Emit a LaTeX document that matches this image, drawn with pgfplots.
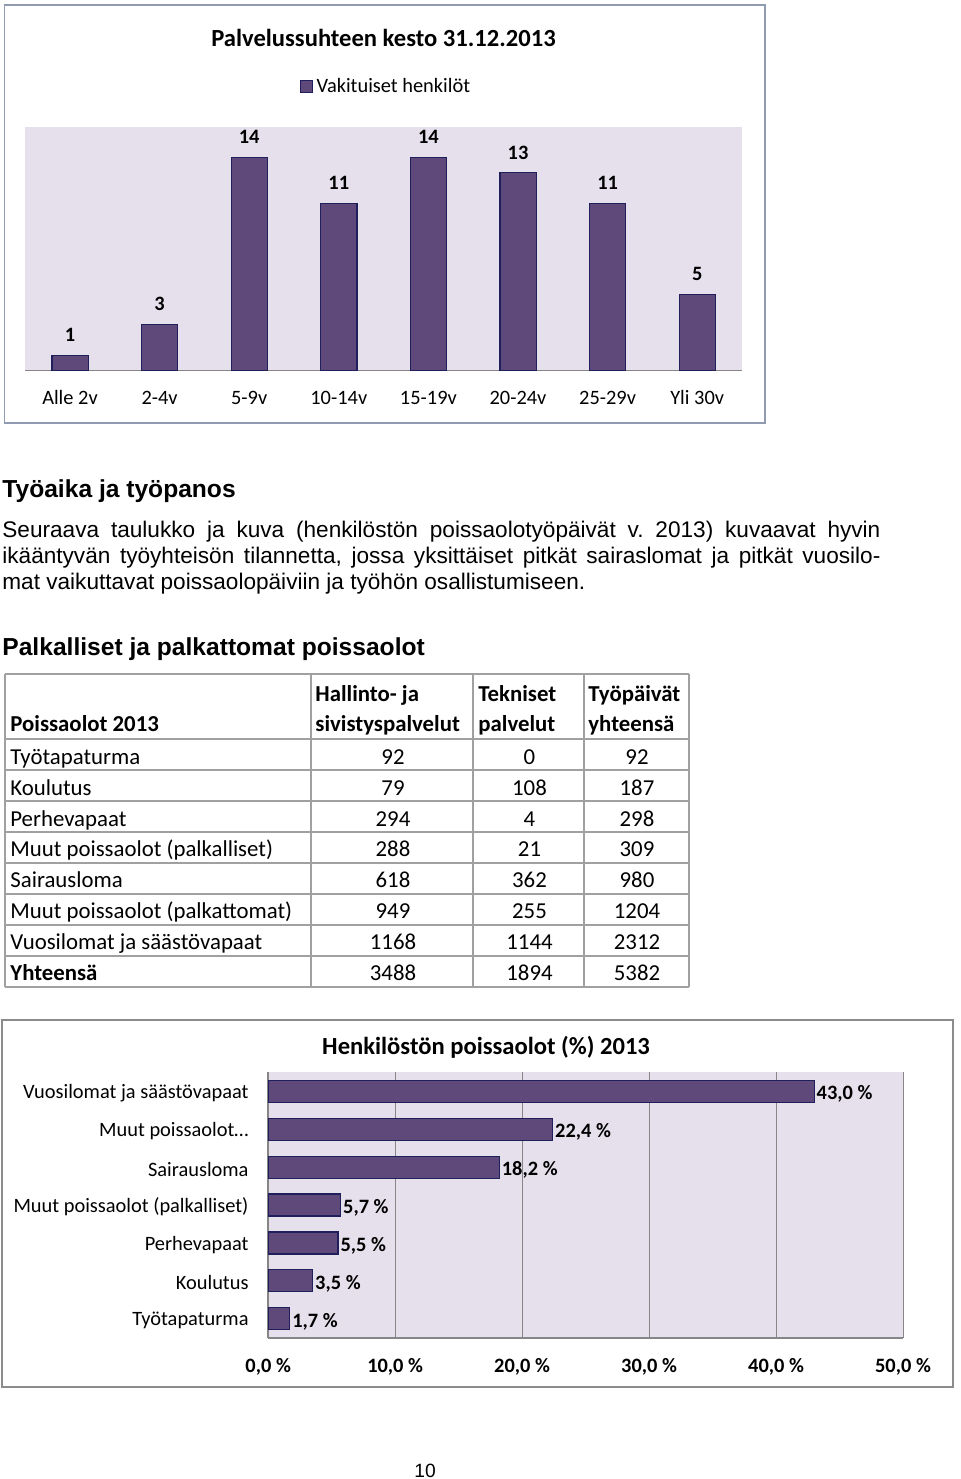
\documentclass[border=0pt]{standalone}
\usepackage{fontspec}
\setmainfont{Liberation Sans}
\newfontfamily\calibri{Carlito}
\usepackage{pgfplots}
\pgfplotsset{compat=1.18}
\definecolor{barfill}{HTML}{5F497A}
\definecolor{baredge}{HTML}{1F1F5C}
\definecolor{plotbg}{HTML}{E5E0EC}
\definecolor{gridgray}{HTML}{868686}
\definecolor{framegray}{HTML}{8E9BB0}
\definecolor{framegrayb}{HTML}{8C8C8C}
\definecolor{tablegray}{HTML}{A0A0A0}
\newcommand\cfont{\calibri\fontsize{10.2}{12}\selectfont}
\newcommand\cbfont{\calibri\bfseries\fontsize{10.2}{12}\selectfont}
\newcommand\tfont{\calibri\fontsize{11.4}{13}\selectfont}
\newcommand\tbfont{\calibri\bfseries\fontsize{11.4}{13}\selectfont}
\newcommand\titlefont{\calibri\bfseries\fontsize{12.3}{14}\selectfont}
\frenchspacing
\begin{document}
\begin{tikzpicture}
\begin{scope}[x=0.5pt,y=-0.5pt]
\path[use as bounding box] (0,0) rectangle (960,1479);
\coordinate (A1) at (25.2,370.3);
\coordinate (A2) at (268.2,1337.7);
\draw[framegray, line width=0.6pt] (4.5,5) rectangle (765,423);
\draw[framegrayb, line width=0.6pt] (2,1020) rectangle (953,1387);
\node[anchor=base, inner sep=0, font=\titlefont] at (383.5,46) {Palvelussuhteen kesto 31.12.2013};
\node[anchor=base, inner sep=0, font=\titlefont] at (486,1054.3) {Henkilöstön poissaolot (\%) 2013};
% text
\node[anchor=base west, inner sep=0, font=\bfseries\fontsize{12.3}{14}\selectfont] at (2,497) {Työaika ja työpanos};
\node[anchor=base west, inner sep=0, font=\fontsize{11.3}{13}\selectfont] at (2,537) {\hbox to 439pt{Seuraava taulukko ja kuva (henkilöstön poissaolotyöpäivät v.\ 2013) kuvaavat hyvin}};
\node[anchor=base west, inner sep=0, font=\fontsize{11.3}{13}\selectfont] at (2,563) {\hbox to 439pt{ikääntyvän työyhteisön tilannetta, jossa yksittäiset pitkät sairaslomat ja pitkät vuosilo-}};
\node[anchor=base west, inner sep=0, font=\fontsize{11.3}{13}\selectfont] at (2,589) {mat vaikuttavat poissaolopäiviin ja työhön osallistumiseen.};
\node[anchor=base west, inner sep=0, font=\bfseries\fontsize{12.3}{14}\selectfont] at (2,655) {Palkalliset ja palkattomat poissaolot};
% table
\foreach \yy in {674,739,769.5,800.5,831.5,862.5,893.5,924.5,955.5,986.5}
  \draw[tablegray, line width=1pt] (5,\yy) -- (689,\yy);
\foreach \xx in {5,310.5,473,583.5,689}
  \draw[tablegray, line width=1pt] (\xx,674) -- (\xx,986.5);
\node[anchor=base west, inner sep=0, font=\tbfont] at (315,701.7) {Hallinto- ja};
\node[anchor=base west, inner sep=0, font=\tbfont] at (315,731.7) {sivistyspalvelut};
\node[anchor=base west, inner sep=0, font=\tbfont] at (478,701.7) {Tekniset};
\node[anchor=base west, inner sep=0, font=\tbfont] at (478,731.7) {palvelut};
\node[anchor=base west, inner sep=0, font=\tbfont] at (588,701.7) {Työpäivät};
\node[anchor=base west, inner sep=0, font=\tbfont] at (588,731.7) {yhteensä};
\node[anchor=base west, inner sep=0, font=\tbfont] at (10,731.7) {Poissaolot 2013};
\foreach \n/\a/\b/\c/\yy in {Työtapaturma/92/0/92/764, Koulutus/79/108/187/795, Perhevapaat/294/4/298/826, Muut poissaolot (palkalliset)/288/21/309/856.5, Sairausloma/618/362/980/887.5, Muut poissaolot (palkattomat)/949/255/1204/918, Vuosilomat ja säästövapaat/1168/1144/2312/949}{
  \node[anchor=base west, inner sep=0, font=\tfont] at (10,\yy) {\n};
  \node[anchor=base, inner sep=0, font=\tfont] at (393,\yy) {\a};
  \node[anchor=base, inner sep=0, font=\tfont] at (529.5,\yy) {\b};
  \node[anchor=base, inner sep=0, font=\tfont] at (637,\yy) {\c};
}
\node[anchor=base west, inner sep=0, font=\tbfont] at (10,980) {Yhteensä};
\node[anchor=base, inner sep=0, font=\tfont] at (393,980) {3488};
\node[anchor=base, inner sep=0, font=\tfont] at (529.5,980) {1894};
\node[anchor=base, inner sep=0, font=\tfont] at (637,980) {5382};
\node[anchor=base, inner sep=0, font=\fontsize{9.6}{11}\selectfont] at (425,1477.7) {10};
\end{scope}

\begin{axis}[at={(A1)}, anchor=south west, scale only axis,
  width=358.4pt, height=121.5pt,
  ybar, bar width=18.1pt,
  xmin=-0.5, xmax=7.5, ymin=0, ymax=16,
  xtick={0,...,7},
  xticklabels={Alle 2v,2-4v,5-9v,10-14v,15-19v,20-24v,25-29v,Yli 30v},
  ytick=\empty,
  axis x line=bottom, axis y line=none,
  axis line style={gridgray, line width=0.8pt, -},
  xtick style={draw=none},
  axis background/.style={fill=plotbg},
  xticklabel style={font=\cfont, anchor=base, yshift=-14.75pt},
  clip=false,
  /pgf/number format/assume math mode=true,
  point meta=y,
  nodes near coords,
  every node near coord/.append style={font=\cbfont, anchor=center, yshift=10.2pt},
  legend style={at={(0.5046,1.168)}, anchor=center, draw=none, fill=none, font=\cfont, inner sep=0pt},
  ]
\addplot[fill=barfill, draw=baredge, line width=0.6pt,
  legend image code/.code={\draw[fill=barfill, draw=baredge, line width=0.5pt] (0pt,-3pt) rectangle (6pt,3pt);}]
  coordinates {(0,1) (1,3) (2,14) (3,11) (4,14) (5,13) (6,11) (7,5)};
\addlegendentry{Vakituiset henkilöt}
\end{axis}

\begin{axis}[at={(A2)}, anchor=south west, scale only axis,
  width=317.4pt, height=132.7pt,
  xbar, bar width=11pt,
  xmin=0, xmax=50, ymin=-0.5, ymax=6.5,
  xtick={0,10,20,30,40,50},
  xticklabels={{0,0 \%},{10,0 \%},{20,0 \%},{30,0 \%},{40,0 \%},{50,0 \%}},
  ytick={0,...,6},
  yticklabels={Työtapaturma,Koulutus,Perhevapaat,Muut poissaolot (palkalliset),Sairausloma,Muut poissaolot…,Vuosilomat ja säästövapaat},
  xmajorgrids, grid style={gridgray, line width=0.5pt},
  axis x line=bottom, axis y line=left,
  axis line style={gridgray, line width=0.8pt, -},
  tick style={draw=none},
  axis background/.style={fill=plotbg},
  xticklabel style={font=\cbfont, anchor=base, yshift=-15.3pt},
  yticklabel style={font=\cfont, anchor=east, inner sep=0pt, xshift=-7.5pt, yshift=-1pt},
  clip=false,
  /pgf/number format/assume math mode=true,
  point meta=x,
  nodes near coords={\pgfmathprintnumber[fixed,fixed zerofill,precision=1,use comma,assume math mode=true]{\pgfplotspointmeta}\ \%},
  every node near coord/.append style={font=\cbfont, anchor=west, inner sep=1pt, yshift=-1.5pt},
  ]
\addplot[fill=barfill, draw=baredge, line width=0.6pt]
  coordinates {(1.7,0) (3.5,1) (5.5,2) (5.7,3) (18.2,4) (22.4,5) (43.0,6)};
\end{axis}
\end{tikzpicture}
\end{document}
